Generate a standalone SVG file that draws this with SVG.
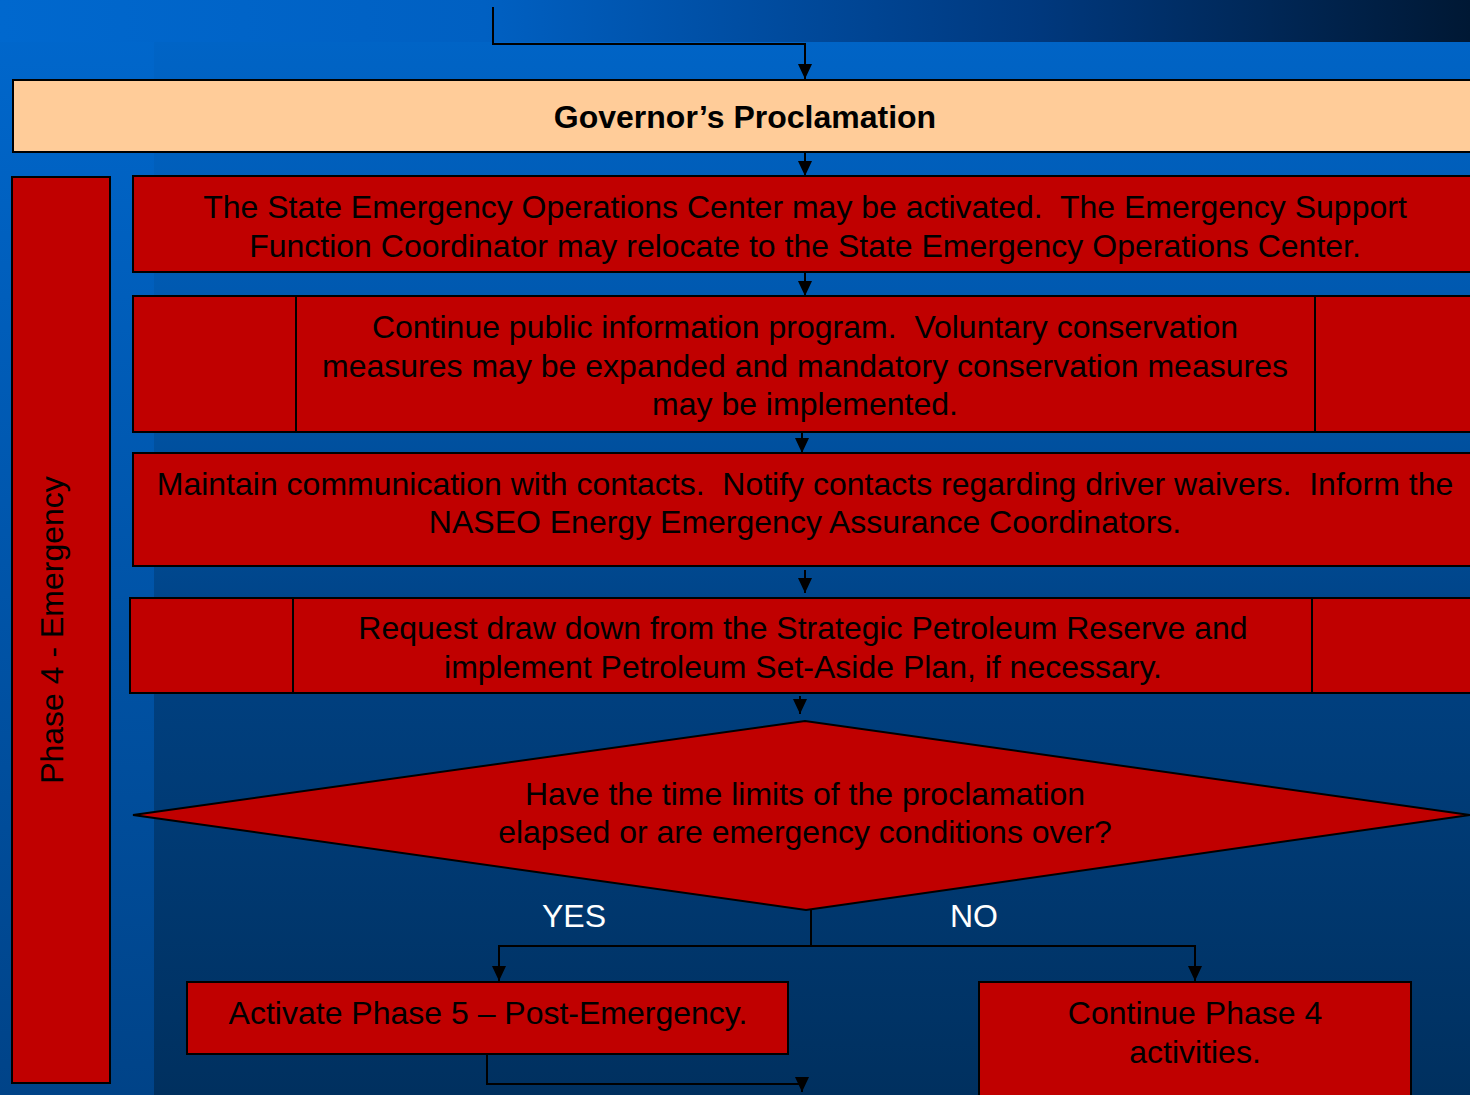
<svg xmlns="http://www.w3.org/2000/svg" width="1470" height="1095" viewBox="0 0 1470 1095">
<style>
.box{fill:#C00000;stroke:#000;stroke-width:2}
.gov{fill:#FFCC99;stroke:#000;stroke-width:2}
.div{stroke:#000;stroke-width:2;fill:none}
.t{font-family:"Liberation Sans",Arial,sans-serif;font-size:32px;fill:#000;text-anchor:middle;white-space:pre}
.b{font-weight:bold}
.w{fill:#fff}
.con path{fill:none;stroke:#000;stroke-width:2}
</style>
<defs>
<linearGradient id="bg" x1="0" y1="0" x2="0" y2="1">
<stop offset="0" stop-color="#0068CE"/>
<stop offset="1" stop-color="#004388"/>
</linearGradient>
<linearGradient id="strip" x1="0" y1="0" x2="1" y2="0">
<stop offset="0" stop-color="#0068CE"/>
<stop offset="0.33" stop-color="#0060C2"/>
<stop offset="0.7" stop-color="#00397F"/>
<stop offset="1" stop-color="#001834"/>
</linearGradient>
<linearGradient id="panel" x1="0" y1="0" x2="0" y2="1">
<stop offset="0" stop-color="#0064C6"/>
<stop offset="0.3" stop-color="#0056AA"/>
<stop offset="0.6" stop-color="#004080"/>
<stop offset="1" stop-color="#00305F"/>
</linearGradient>
<marker id="ah" markerUnits="userSpaceOnUse" markerWidth="16" markerHeight="16" viewBox="0 0 16 16" refX="15" refY="8" orient="auto">
<path d="M0,1 L15,8 L0,15 Z" fill="#000"/>
</marker>
</defs>
<rect x="0" y="0" width="1470" height="1095" fill="url(#bg)"/>
<rect x="0" y="0" width="1470" height="42" fill="url(#strip)"/>
<rect x="154" y="42" width="1316" height="1053" fill="url(#panel)"/>

<g id="phase">
<rect x="12" y="177" width="98" height="906" class="box" stroke-width="3"/>
<text class="t" transform="translate(63,630) rotate(-90)">Phase 4 - Emergency</text>
</g>

<g id="governor">
<rect x="13" y="80" width="1460" height="72" class="gov"/>
<text class="t b" x="745" y="128">Governor’s Proclamation</text>
</g>

<g id="soc">
<rect x="133" y="176" width="1340" height="96" class="box"/>
<text class="t" xml:space="preserve" x="805" y="218">The State Emergency Operations Center may be activated.  The Emergency Support</text>
<text class="t" x="805" y="257">Function Coordinator may relocate to the State Emergency Operations Center.</text>
</g>

<g id="publicinfo">
<rect x="133" y="296" width="1340" height="136" class="box"/>
<path class="div" d="M296,296 V432 M1315,296 V432"/>
<text class="t" xml:space="preserve" x="805" y="338">Continue public information program.  Voluntary conservation</text>
<text class="t" x="805" y="377">measures may be expanded and mandatory conservation measures</text>
<text class="t" x="805" y="415">may be implemented.</text>
</g>

<g id="communication">
<rect x="133" y="453" width="1340" height="113" class="box"/>
<text class="t" xml:space="preserve" x="805" y="495">Maintain communication with contacts.  Notify contacts regarding driver waivers.  Inform the</text>
<text class="t" x="805" y="533">NASEO Energy Emergency Assurance Coordinators.</text>
</g>

<g id="reserve">
<rect x="130" y="598" width="1343" height="95" class="box"/>
<path class="div" d="M293,598 V693 M1312,598 V693"/>
<text class="t" x="803" y="639">Request draw down from the Strategic Petroleum Reserve and</text>
<text class="t" x="803" y="678">implement Petroleum Set-Aside Plan, if necessary.</text>
</g>

<g id="decision">
<polygon points="133,815 805,721 1470,815 806,910" class="box"/>
<text class="t" x="805" y="805">Have the time limits of the proclamation</text>
<text class="t" x="805" y="843">elapsed or are emergency conditions over?</text>
</g>

<g id="labels">
<text class="t w" x="574" y="927">YES</text>
<text class="t w" x="974" y="927">NO</text>
</g>

<g id="activate5">
<rect x="187" y="982" width="601" height="72" class="box"/>
<text class="t" x="488" y="1024">Activate Phase 5 – Post-Emergency.</text>
</g>

<g id="continue4">
<rect x="979" y="982" width="432" height="130" class="box"/>
<text class="t" x="1195" y="1024">Continue Phase 4</text>
<text class="t" x="1195" y="1063">activities.</text>
</g>

<g id="connectors" class="con">
<path d="M493,7 V44 H805 V79" marker-end="url(#ah)"/>
<path d="M805,152 V176" marker-end="url(#ah)"/>
<path d="M805,272 V296" marker-end="url(#ah)"/>
<path d="M802,432 V453" marker-end="url(#ah)"/>
<path d="M805,570 V593" marker-end="url(#ah)"/>
<path d="M800,696 V714" marker-end="url(#ah)"/>
<path d="M811,910 V946 H499 V981" marker-end="url(#ah)"/>
<path d="M811,946 H1195 V981" marker-end="url(#ah)"/>
<path d="M487,1054 V1084 H802 V1092" marker-end="url(#ah)"/>
</g>
</svg>
